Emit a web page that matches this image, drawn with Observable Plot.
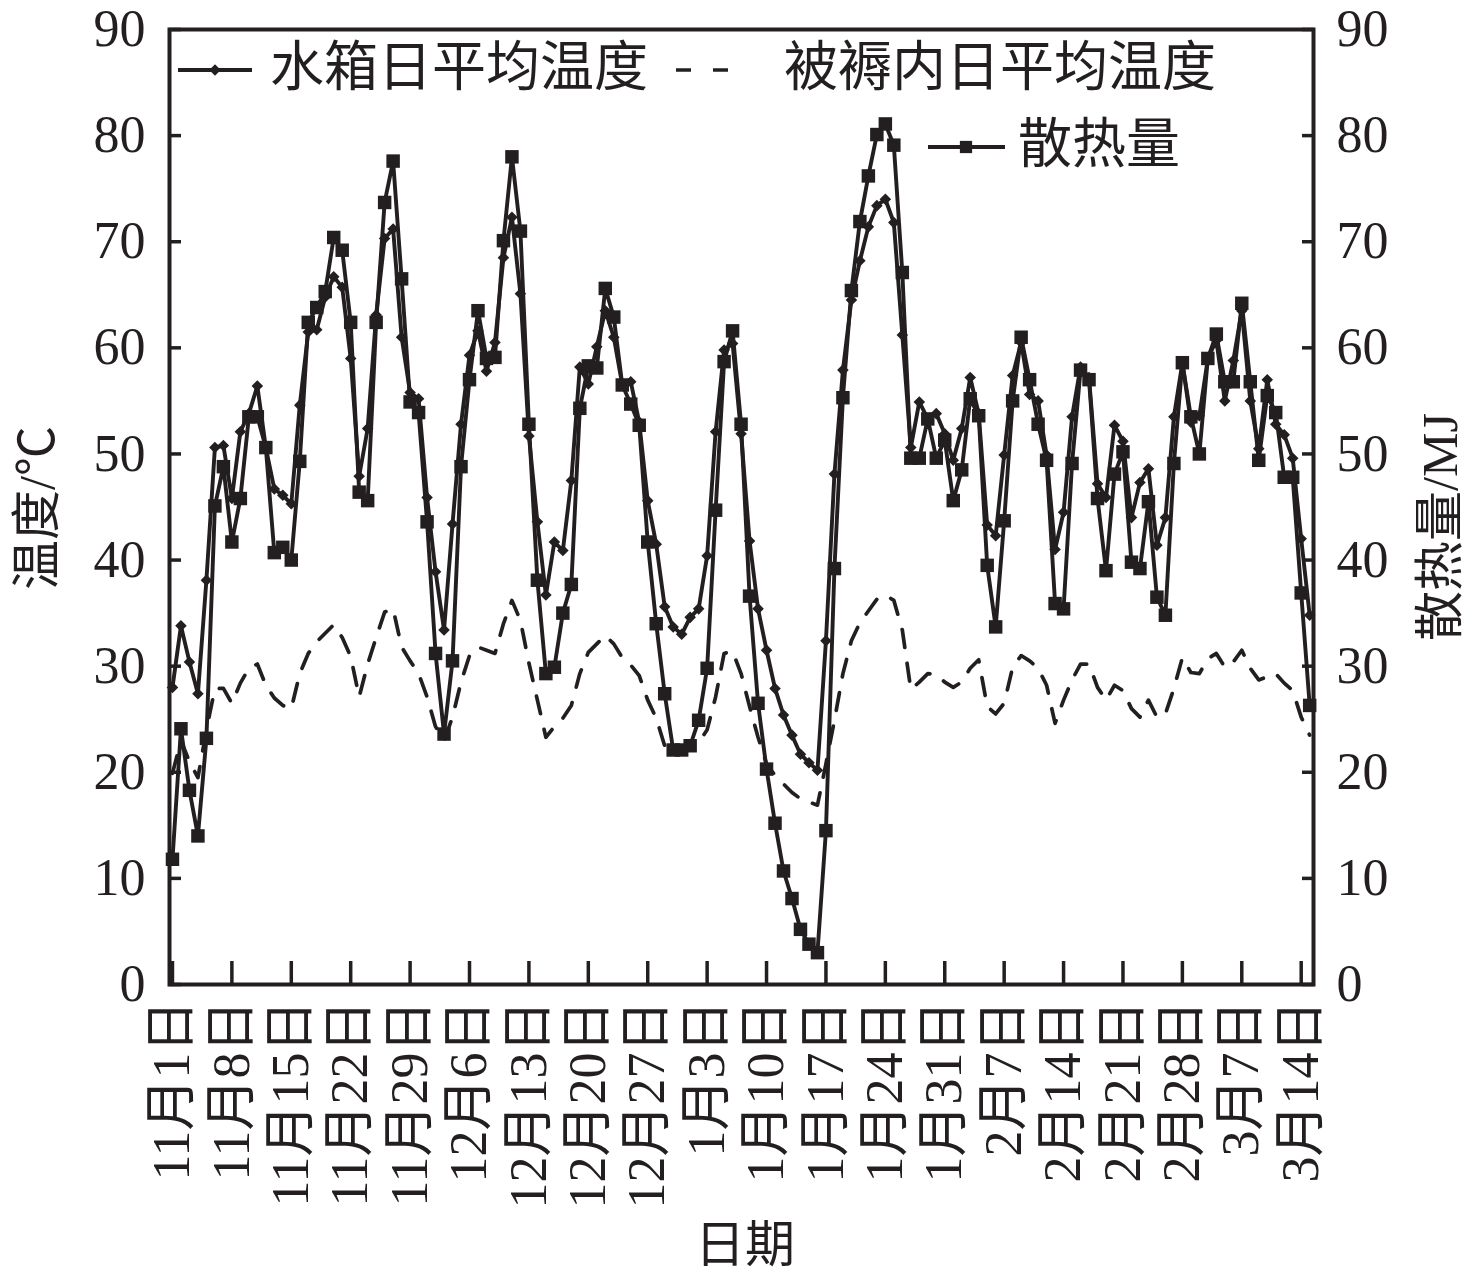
<!DOCTYPE html>
<html>
<head>
<meta charset="utf-8">
<script src="https://cdn.jsdelivr.net/npm/d3@7"></script>
<script src="https://cdn.jsdelivr.net/npm/@observablehq/plot@0.6"></script>
<style>
  html, body { margin: 0; padding: 0; background: #ffffff; }
</style>
</head>
<body>
<div id="chart"></div>
<script>
// ---- data (day index 0 = 11月1日) ----
const tickDays = [0, 7, 14, 21, 28, 35, 42, 49, 56, 63, 70, 77, 84, 91, 98, 105, 112, 119, 126, 133];
const tickLabels = ["11月1日", "11月8日", "11月15日", "11月22日", "11月29日", "12月6日", "12月13日",
  "12月20日", "12月27日", "1月3日", "1月10日", "1月17日", "1月24日", "1月31日", "2月7日", "2月14日",
  "2月21日", "2月28日", "3月7日", "3月14日"];
const yTicks = [0, 10, 20, 30, 40, 50, 60, 70, 80, 90];

// 水箱日平均温度 (℃)
const waterTemp = [
  28.0, 33.8, 30.4, 27.4, 38.1, 50.6, 50.8, 45.8, 52.1, 53.8,
  56.4, 50.6, 46.7, 46.1, 45.3, 54.6, 61.5, 61.7, 64.8, 66.7,
  65.7, 59.0, 47.9, 52.4, 63.1, 70.3, 71.2, 61.0, 55.8, 55.2,
  45.9, 38.9, 33.4, 43.4, 52.8, 59.3, 61.6, 57.8, 60.5, 68.5,
  72.3, 65.1, 51.7, 43.6, 36.7, 41.7, 40.9, 47.5, 58.2, 56.6,
  60.1, 63.5, 61.0, 56.5, 56.8, 53.0, 45.6, 41.5, 35.6, 33.7,
  33.0, 34.6, 35.4, 40.4, 52.1, 59.8, 60.4, 51.9, 41.8, 35.4,
  31.5, 27.9, 25.4, 23.5, 21.7, 20.9, 20.2, 32.4, 48.1, 57.9,
  64.5, 68.2, 71.4, 73.4, 74.0, 71.8, 61.2, 50.6, 54.9, 53.3,
  53.8, 51.9, 49.4, 52.4, 57.2, 53.8, 43.3, 42.3, 49.9, 57.4,
  60.5, 55.6, 55.0, 49.9, 41.0, 44.5, 53.5, 58.2, 57.2, 47.2,
  45.9, 52.7, 51.2, 44.0, 47.3, 48.6, 41.4, 44.0, 53.5, 58.6,
  53.0, 53.6, 59.0, 60.7, 55.0, 58.8, 63.5, 55.0, 50.5, 57.0,
  52.8, 51.8, 49.6, 42.0, 34.8
];

// 被褥内日平均温度 (℃)
const quiltTemp = [
  19.9, 23.0, 21.0, 19.5, 24.0, 27.9, 27.9, 26.5, 28.4, 29.8,
  30.2, 28.2, 27.0, 26.3, 26.0, 29.3, 31.2, 32.3, 33.1, 33.9,
  32.7, 30.9, 27.1, 30.2, 32.7, 35.1, 35.4, 31.8, 30.5, 29.3,
  27.1, 24.3, 23.0, 25.2, 28.5, 31.0, 31.8, 31.5, 31.2, 34.0,
  36.2, 34.3, 30.3, 26.8, 23.3, 24.3, 25.1, 26.3, 29.3, 31.3,
  32.1, 32.9, 32.1, 30.8, 30.1, 29.1, 26.8, 25.1, 22.5, 21.9,
  21.9, 22.7, 22.8, 24.0, 27.1, 31.2, 31.4, 29.3, 26.2, 23.3,
  20.8, 19.7, 18.9, 18.1, 17.5, 17.2, 16.9, 20.8, 24.9, 29.3,
  32.4, 34.1, 35.2, 36.3, 36.7, 36.2, 33.4, 27.8, 28.5, 29.3,
  29.2, 28.5, 28.0, 28.5, 29.8, 30.6, 26.2, 25.5, 26.5, 29.9,
  31.0, 30.5, 29.8, 28.2, 24.6, 26.8, 28.7, 30.2, 30.2, 28.0,
  26.8, 28.2, 27.7, 26.0, 25.2, 26.8, 25.2, 25.5, 27.9, 30.8,
  29.4, 29.3, 30.7, 31.2, 29.9, 30.4, 31.5, 29.8, 28.7, 29.0,
  29.3, 28.4, 27.7, 25.2, 23.5
];

// 散热量 (MJ)
const heatMJ = [
  11.8, 24.1, 18.3, 14.0, 23.2, 45.1, 48.8, 41.7, 45.8, 53.5,
  53.5, 50.6, 40.7, 41.2, 40.0, 49.3, 62.4, 63.8, 65.3, 70.4,
  69.2, 62.4, 46.4, 45.6, 62.4, 73.7, 77.6, 66.5, 54.9, 53.9,
  43.6, 31.2, 23.6, 30.5, 48.8, 57.0, 63.5, 59.0, 59.1, 70.1,
  78.0, 71.0, 52.8, 38.1, 29.3, 29.9, 35.0, 37.7, 54.3, 58.3,
  58.1, 65.6, 62.9, 56.5, 54.7, 52.7, 41.7, 34.0, 27.4, 22.1,
  22.1, 22.5, 24.9, 29.8, 44.7, 58.7, 61.6, 52.8, 36.6, 26.5,
  20.3, 15.2, 10.7, 8.1, 5.2, 3.8, 3.0, 14.5, 39.2, 55.3,
  65.4, 71.9, 76.2, 80.1, 81.1, 79.1, 67.1, 49.6, 49.6, 53.3,
  49.6, 51.3, 45.6, 48.5, 55.2, 53.6, 39.5, 33.7, 43.7, 55.0,
  61.0, 57.0, 52.8, 49.4, 35.9, 35.4, 49.1, 57.9, 57.0, 45.8,
  39.0, 48.1, 50.2, 39.8, 39.2, 45.5, 36.5, 34.8, 49.1, 58.6,
  53.5, 50.0, 59.0, 61.3, 56.8, 56.8, 64.2, 56.8, 49.4, 55.5,
  53.9, 47.8, 47.8, 36.9, 26.3
];

const seriesNames = ["水箱日平均温度", "被褥内日平均温度", "散热量"];
const axisTitles = { left: "温度/℃", right: "散热量/MJ", bottom: "日期" };

// ---- build ----
const ink = "#231f20";
const font = '"Liberation Serif", "Times New Roman", "Noto Sans CJK SC", serif';
const lw = 3.9;
const rows = waterTemp.map((v, i) => ({ day: i, water: v, quilt: quiltTemp[i], heat: heatMJ[i] }));

const chart = Plot.plot({
  width: 1476,
  height: 1283,
  marginLeft: 169,
  marginRight: 163,
  marginTop: 29,
  marginBottom: 299,
  style: { fontFamily: font, fontSize: "52px", color: ink, background: "#ffffff" },
  x: { domain: [-0.35, 134.45] },
  y: { domain: [0, 90] },
  marks: [
    Plot.lineY(rows, { x: "day", y: "quilt", stroke: ink, strokeWidth: 3.7, strokeDasharray: "18,16" }),
    Plot.lineY(rows, { x: "day", y: "water", stroke: ink, strokeWidth: lw }),
    Plot.dot(rows, { x: "day", y: "water", symbol: "diamond2", r: 5.2, fill: ink }),
    Plot.lineY(rows, { x: "day", y: "heat", stroke: ink, strokeWidth: lw }),
    Plot.dot(rows, { x: "day", y: "heat", symbol: "square", r: 7.6, fill: ink }),
    Plot.axisX({
      ticks: tickDays,
      tickFormat: d => tickLabels[tickDays.indexOf(d)],
      tickSize: -23, tickPadding: 39, tickRotate: -90,
      strokeWidth: 3.5, stroke: ink, label: null
    }),
    Plot.axisY({ anchor: "left", ticks: yTicks, tickSize: -12, tickPadding: 36, strokeWidth: 3.5, stroke: ink, label: null }),
    Plot.axisY({ anchor: "right", ticks: yTicks, tickSize: -12, tickPadding: 35, strokeWidth: 3.5, stroke: ink, label: null }),
    Plot.frame({ stroke: ink, strokeWidth: 4 })
  ]
});

document.getElementById("chart").appendChild(chart);

// ---- legend & axis titles (annotation layer) ----
const svg = d3.select(chart);
const ann = svg.append("g").attr("font-family", font).attr("fill", ink).attr("text-anchor", "start");

// row 1: water
ann.append("line").attr("x1", 178).attr("x2", 252).attr("y1", 70).attr("y2", 70)
  .attr("stroke", ink).attr("stroke-width", lw);
ann.append("path").attr("d", d3.symbol(d3.symbolDiamond2, 85)())
  .attr("transform", "translate(215,70)").attr("fill", ink);
ann.append("text").attr("x", 270).attr("y", 68).attr("dominant-baseline", "central")
  .attr("text-anchor", "start").attr("font-size", 54).text(seriesNames[0]);

// row 1: quilt
ann.append("line").attr("x1", 676).attr("x2", 734).attr("y1", 70).attr("y2", 70)
  .attr("stroke", ink).attr("stroke-width", 3.7).attr("stroke-dasharray", "15,22");
ann.append("text").attr("x", 784).attr("y", 68).attr("dominant-baseline", "central")
  .attr("text-anchor", "start").attr("font-size", 54).text(seriesNames[1]);

// row 2: heat
ann.append("line").attr("x1", 928).attr("x2", 1005).attr("y1", 147).attr("y2", 147)
  .attr("stroke", ink).attr("stroke-width", lw);
ann.append("path").attr("d", d3.symbol(d3.symbolSquare, 150)())
  .attr("transform", "translate(966,147)").attr("fill", ink);
ann.append("text").attr("x", 1018).attr("y", 145).attr("dominant-baseline", "central")
  .attr("text-anchor", "start").attr("font-size", 54).text(seriesNames[2]);

// axis titles
ann.append("text").attr("transform", "translate(37,508) rotate(-90)")
  .attr("text-anchor", "middle").attr("dominant-baseline", "central")
  .attr("font-size", 50).text(axisTitles.left);
ann.append("text").attr("transform", "translate(1440,527) rotate(-90)")
  .attr("text-anchor", "middle").attr("dominant-baseline", "central")
  .attr("font-size", 50).text(axisTitles.right);
ann.append("text").attr("x", 745).attr("y", 1245)
  .attr("text-anchor", "middle").attr("dominant-baseline", "central")
  .attr("font-size", 50).text(axisTitles.bottom);
</script>
</body>
</html>
